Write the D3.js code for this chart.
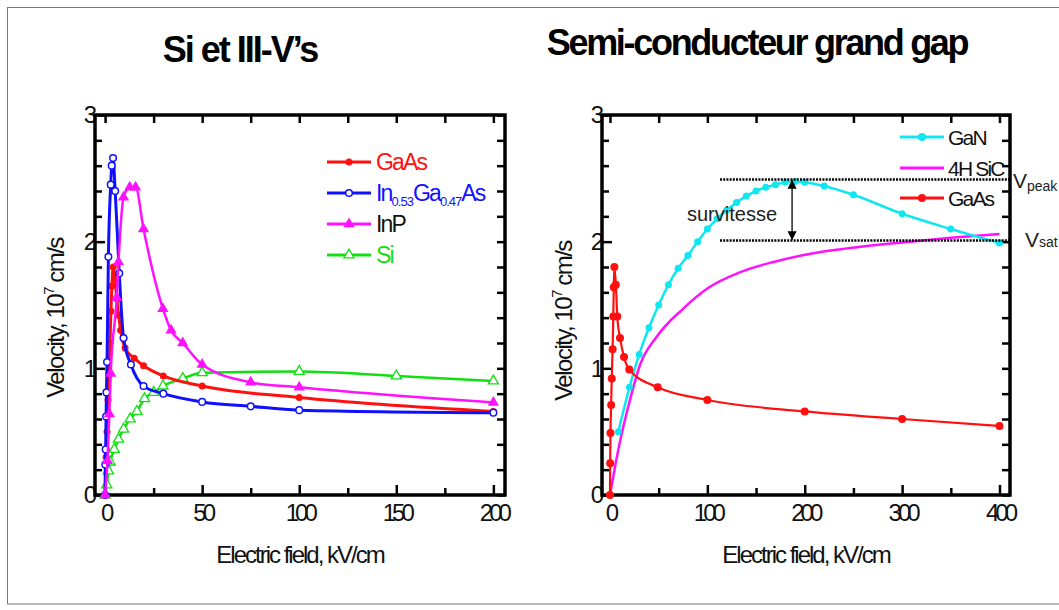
<!DOCTYPE html>
<html>
<head>
<meta charset="utf-8">
<script src="https://cdn.jsdelivr.net/npm/d3@7"></script>
<style>
    body { margin: 0; background: #fff; }
    svg { display: block; font-family: "Liberation Sans", Arial, sans-serif; }
</style>
</head>
<body>
<div id="chart"></div>
<script>
// ---- data: [electric field kV/cm, velocity 1e7 cm/s]
const gaasLeft = [[0,0],[0.5,0.3],[1,0.5],[1.5,0.75],[2,0.95],[2.5,1.2],[3,1.45],[3.5,1.65],[4.2,1.8],[5,1.72],[6,1.55],[7,1.42],[8,1.3],[10.3,1.16],[15,1.08],[19.8,1.02],[30,0.94],[50,0.86],[100,0.77],[200,0.66]];
const inGaAs = [[0,0],[0.1,0.24],[0.3,0.36],[0.5,0.62],[0.7,0.81],[1,1.05],[1.7,1.88],[2.9,2.45],[3.4,2.6],[4.1,2.66],[5.2,2.4],[7.3,1.75],[9.5,1.24],[13.3,1.03],[19.8,0.86],[30,0.8],[50,0.735],[75,0.7],[100,0.67],[200,0.65]];
const inP = [[0,0],[1.2,0.27],[2.2,0.64],[2.9,0.96],[6,1.56],[6.9,1.84],[9.5,2.35],[12.7,2.43],[15.7,2.43],[19.8,2.1],[29.8,1.47],[34,1.3],[40,1.2],[50,1.03],[75,0.89],[100,0.85],[200,0.73]];
const si = [[0,0],[0.9,0.08],[1.7,0.19],[2.6,0.26],[4.7,0.36],[6.9,0.44],[9.5,0.52],[12.9,0.6],[16.4,0.66],[20.3,0.76],[25,0.81],[29.8,0.86],[40,0.92],[50,0.965],[100,0.975],[150,0.94],[200,0.9]];

const gan = [[8.6,0.5],[20,0.85],[30,1.11],[40,1.32],[50,1.5],[60,1.66],[70,1.79],[80,1.89],[90,2.0],[100,2.1],[110,2.18],[120,2.25],[130,2.31],[140,2.36],[150,2.4],[160,2.43],[170,2.45],[180,2.47],[190,2.475],[200,2.47],[220,2.44],[250,2.37],[300,2.22],[350,2.1],[400,1.99]];
const sic4h = [[0,0],[8.6,0.36],[20.5,0.75],[31,1.03],[48,1.25],[75,1.47],[100,1.63],[134,1.76],[168,1.84],[203,1.9],[237,1.94],[295,1.99],[350,2.03],[400,2.06]];
const gaasRight = [[0,0],[0.2,0.25],[0.5,0.49],[1.2,0.71],[1.8,0.92],[2.7,1.15],[3.4,1.41],[3.9,1.64],[4.5,1.8],[6,1.66],[7.5,1.41],[10.3,1.24],[14.4,1.09],[19.8,0.99],[49,0.85],[100,0.75],[200,0.66],[300,0.6],[400,0.545]];

const leftXMajor = [0, 50, 100, 150, 200];
const leftXMinor = [25, 75, 125, 175];
const rightXMajor = [0, 100, 200, 300, 400];
const rightXMinor = [50, 150, 250, 350];
const yMajor = [0, 1, 2, 3];
const yMinor = [0.2, 0.4, 0.6, 0.8, 1.2, 1.4, 1.6, 1.8, 2.2, 2.4, 2.6, 2.8];

const vPeak = 2.49, vSat = 2.01, arrowE = 187, dottedFromE = 113;

const leftTitle = 'Si et III-V\u2019s';
const rightTitle = 'Semi-conducteur grand gap';
const xTitle = 'Electric field, kV/cm';

// ---- page
const svg = d3.select('#chart').append('svg')
    .attr('width', 1059)
    .attr('height', 610);

svg.append('rect')
    .attr('x', 7.5).attr('y', 7.5)
    .attr('width', 1070).attr('height', 596.5)
    .attr('fill', 'none').attr('stroke', '#777').attr('stroke-width', 1);

function drawFrame(box, xDomain, xMajor, xMinor) {
    let x = d3.scaleLinear().domain(xDomain).range([box.left, box.right]);
    let y = d3.scaleLinear().domain([0, 3]).range([box.bottom, box.top]);
    let g = svg.append('g');

    let styleAxis = (sel) => {
        sel.select('.domain').remove();
        sel.selectAll('line').attr('stroke', '#000').attr('stroke-width', 2.5);
        sel.selectAll('text')
            .attr('fill', '#111')
            .style('font-size', '24px')
            .style('letter-spacing', '-4px');
    };

    g.append('g').attr('transform', 'translate(0,' + box.bottom + ')')
        .call(d3.axisBottom(x).tickValues(xMajor).tickSize(-10).tickPadding(9).tickFormat(d3.format('d')))
        .call(styleAxis);
    g.append('g').attr('transform', 'translate(0,' + box.bottom + ')')
        .call(d3.axisBottom(x).tickValues(xMinor).tickSize(-7).tickFormat(''))
        .call(styleAxis);
    g.append('g').attr('transform', 'translate(0,' + box.top + ')')
        .call(d3.axisTop(x).tickValues(xMajor.concat(xMinor)).tickSize(-8).tickFormat(''))
        .call(styleAxis);
    g.append('g').attr('transform', 'translate(' + box.left + ',0)')
        .call(d3.axisLeft(y).tickValues(yMajor).tickSize(-10).tickPadding(2).tickFormat(d3.format('d')))
        .call(styleAxis);
    g.append('g').attr('transform', 'translate(' + box.left + ',0)')
        .call(d3.axisLeft(y).tickValues(yMinor).tickSize(-7).tickFormat(''))
        .call(styleAxis);
    g.append('g').attr('transform', 'translate(' + box.right + ',0)')
        .call(d3.axisRight(y).tickValues(yMajor.concat(yMinor)).tickSize(-8).tickFormat(''))
        .call(styleAxis);

    g.append('rect')
        .attr('x', box.left).attr('y', box.top)
        .attr('width', box.right - box.left).attr('height', box.bottom - box.top)
        .attr('fill', 'none').attr('stroke', '#000').attr('stroke-width', 3.5);

    // axis titles
    let yl = svg.append('text')
        .attr('transform', 'translate(' + box.yLabelX + ',' + box.yLabelY + ') rotate(-90)')
        .attr('text-anchor', 'middle')
        .style('font-size', '24px')
        .style('letter-spacing', '-1.5px')
        .attr('fill', '#111');
    yl.append('tspan').text('Velocity, 10');
    yl.append('tspan').attr('dy', -10).style('font-size', '15px').text('7');
    yl.append('tspan').attr('dy', 10).text(' cm/s');

    svg.append('text')
        .attr('x', (box.left + box.right) / 2).attr('y', 563)
        .attr('text-anchor', 'middle')
        .style('font-size', '24px')
        .style('letter-spacing', '-2px')
        .attr('fill', '#111')
        .text(xTitle);

    return {x: x, y: y};
}

function drawSeries(sc, data, color, width, marker) {
    let line = d3.line()
        .x(d => sc.x(d[0]))
        .y(d => sc.y(d[1]))
        .curve(d3.curveMonotoneX);
    svg.append('path')
        .datum(data)
        .attr('d', line)
        .attr('fill', 'none')
        .attr('stroke', color)
        .attr('stroke-width', width)
        .attr('stroke-linejoin', 'round');
    if (marker) drawMarkers(data.map(d => [sc.x(d[0]), sc.y(d[1])]), color, marker);
}

function drawMarkers(pts, color, marker) {
    let g = svg.append('g');
    if (marker.type === 'circle') {
        g.selectAll(null).data(pts).enter().append('circle')
            .attr('cx', d => d[0]).attr('cy', d => d[1])
            .attr('r', marker.r)
            .attr('fill', marker.open ? '#fff' : color)
            .attr('stroke', color)
            .attr('stroke-width', marker.open ? 1.5 : 0);
    } else {
        let tri = d3.symbol().type(d3.symbolTriangle).size(marker.size);
        g.selectAll(null).data(pts).enter().append('path')
            .attr('d', tri)
            .attr('transform', d => 'translate(' + d[0] + ',' + d[1] + ')')
            .attr('fill', marker.open ? '#fff' : color)
            .attr('stroke', color)
            .attr('stroke-width', marker.open ? 1.3 : 0);
    }
}

const red = '#ff1010', blue = '#1010ff', pink = '#ff10ff', green = '#10e010', cyan = '#10e6f0';

// ---- left panel
const left = drawFrame({left: 95, right: 505, top: 115, bottom: 495, yLabelX: 64, yLabelY: 318}, [-5.2, 206], leftXMajor, leftXMinor);
drawSeries(left, si, green, 2.5, {type: 'tri', size: 45, open: true});
drawSeries(left, gaasLeft, red, 3, {type: 'circle', r: 3.5});
drawSeries(left, inGaAs, blue, 3, {type: 'circle', r: 3.3, open: true});
drawSeries(left, inP, pink, 2.5, {type: 'tri', size: 55});

// ---- right panel
const right = drawFrame({left: 602, right: 1010, top: 115, bottom: 495, yLabelX: 572, yLabelY: 321}, [-8.2, 410.8], rightXMajor, rightXMinor);
drawSeries(right, sic4h, pink, 2.5, null);
drawSeries(right, gan, cyan, 2.5, {type: 'circle', r: 3.5});
drawSeries(right, gaasRight, red, 2.2, {type: 'circle', r: 4});

// survitesse annotation
[vPeak, vSat].forEach(v => {
    svg.append('line')
        .attr('x1', right.x(dottedFromE)).attr('x2', 1010)
        .attr('y1', right.y(v)).attr('y2', right.y(v))
        .attr('stroke', '#000').attr('stroke-width', 2.5)
        .attr('stroke-dasharray', '2,1.2');
});
svg.append('defs').append('marker')
    .attr('id', 'head').attr('viewBox', '0 0 10 10')
    .attr('refX', 9).attr('refY', 5)
    .attr('markerWidth', 7).attr('markerHeight', 9)
    .attr('orient', 'auto-start-reverse')
    .append('path').attr('d', 'M0,0L10,5L0,10Z').attr('fill', '#000');
svg.append('line')
    .attr('x1', right.x(arrowE)).attr('x2', right.x(arrowE))
    .attr('y1', right.y(vPeak) + 1).attr('y2', right.y(vSat) - 1)
    .attr('stroke', '#000').attr('stroke-width', 1.3)
    .attr('marker-start', 'url(#head)').attr('marker-end', 'url(#head)');
svg.append('text')
    .attr('x', 687).attr('y', 221)
    .style('font-size', '20px')
    .attr('fill', '#222')
    .text('survitesse');

let vp = svg.append('text').attr('x', 1013).attr('y', 188).style('font-size', '21px').attr('fill', '#222');
vp.append('tspan').text('V');
vp.append('tspan').attr('dy', 3).style('font-size', '14px').text('peak');
let vs = svg.append('text').attr('x', 1025).attr('y', 247).style('font-size', '21px').attr('fill', '#222');
vs.append('tspan').text('V');
vs.append('tspan').style('font-size', '14px').text('sat');

// ---- titles
svg.append('text')
    .attr('x', 240).attr('y', 62)
    .attr('text-anchor', 'middle')
    .style('font-size', '36px').style('font-weight', 'bold')
    .style('letter-spacing', '-2px')
    .text(leftTitle);
svg.append('text')
    .attr('x', 757).attr('y', 55)
    .attr('text-anchor', 'middle')
    .style('font-size', '36px').style('font-weight', 'bold')
    .style('letter-spacing', '-2.3px')
    .text(rightTitle);

// ---- legends
function legendRow(x0, y0, color, marker, lineWidth) {
    svg.append('line')
        .attr('x1', x0).attr('x2', x0 + 44)
        .attr('y1', y0).attr('y2', y0)
        .attr('stroke', color).attr('stroke-width', lineWidth);
    if (marker) drawMarkers([[x0 + 22, y0]], color, marker);
}
function legendText(x0, y0, parts, color, size) {
    let t = svg.append('text').attr('x', x0).attr('y', y0 + 8)
        .style('font-size', size + 'px').style('letter-spacing', '-1.8px').attr('fill', color);
    let lowered = false;
    parts.forEach(p => {
        let sub = !!p[1];
        let dy = sub === lowered ? 0 : (sub ? 5 : -5);
        let s = t.append('tspan').attr('dy', dy).text(p[0]);
        if (sub) s.style('font-size', '13px').style('letter-spacing', '-1px');
        lowered = sub;
    });
}

legendRow(327, 162, red, {type: 'circle', r: 3.5}, 3);
legendText(376, 162, [['GaAs']], red, 23);
legendRow(327, 193, blue, {type: 'circle', r: 3.3, open: true}, 3);
legendText(376, 193, [['In'], ['0.53', 1], ['Ga'], ['0.47', 1], ['As']], blue, 23);
legendRow(327, 224, pink, {type: 'tri', size: 55}, 3);
legendText(376, 224, [['InP']], '#111', 23);
legendRow(327, 255, green, {type: 'tri', size: 45, open: true}, 3);
legendText(376, 255, [['Si']], green, 23);

legendRow(900, 137, cyan, {type: 'circle', r: 4}, 3);
legendText(948, 137, [['GaN']], '#111', 21);
legendRow(900, 168, pink, null, 3);
legendText(948, 168, [['4H SiC']], '#111', 21);
legendRow(900, 198, red, {type: 'circle', r: 4}, 3);
legendText(948, 198, [['GaAs']], '#111', 21);
</script>
</body>
</html>
